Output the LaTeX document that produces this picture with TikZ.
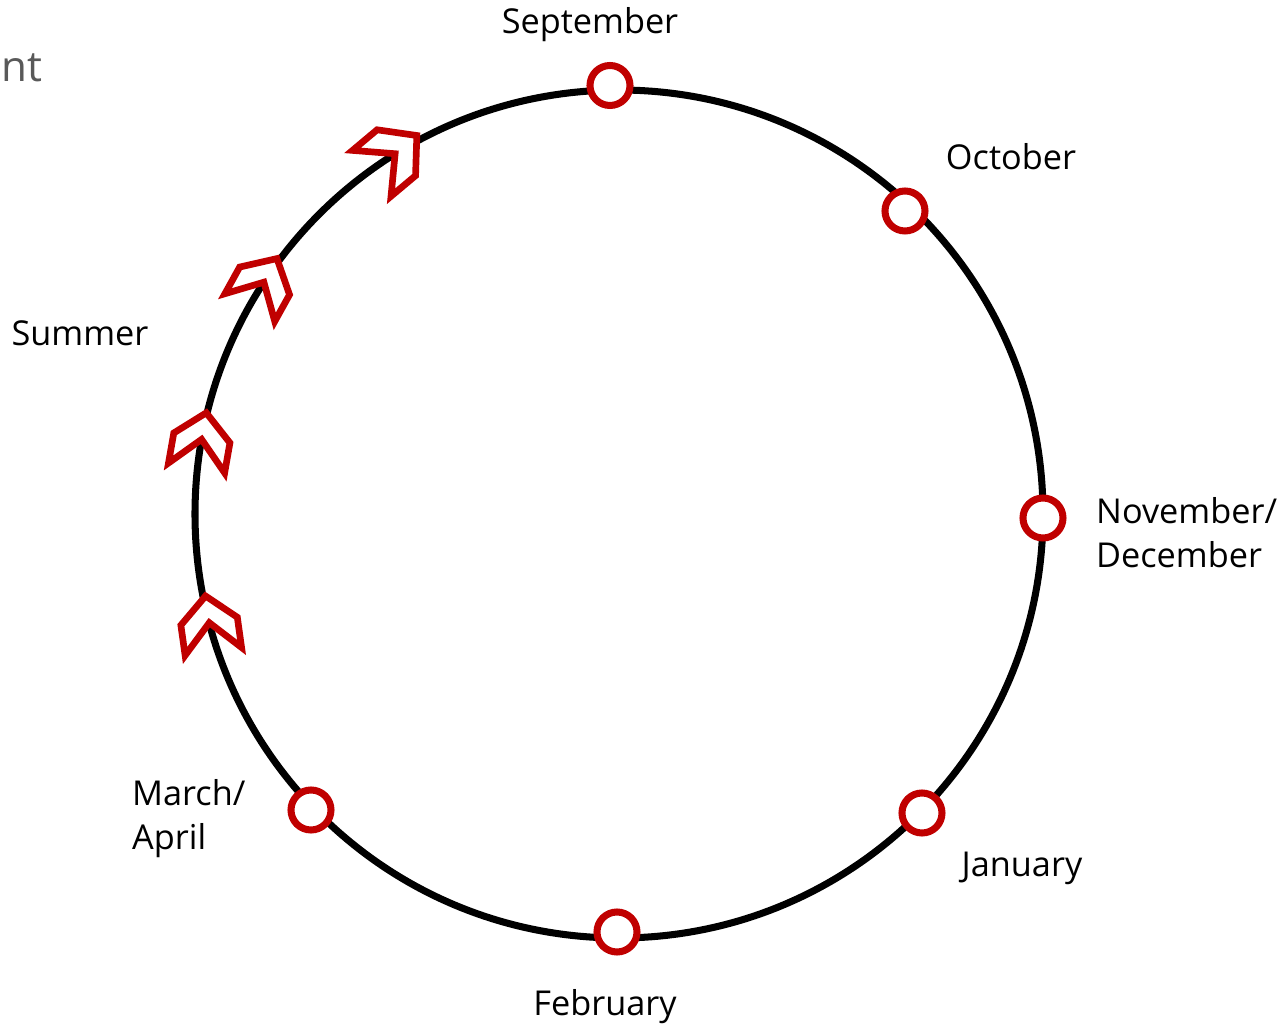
\documentclass[tikz,border=0pt]{standalone}
\usepackage{fontspec}
\setmainfont{Open Sans}
\usepackage{tikz}
\usetikzlibrary{positioning, arrows.meta, calc}
\definecolor{markRed}{HTML}{C00000}
\definecolor{titleGray}{HTML}{595959}

\begin{document}
\begin{tikzpicture}[
  every node/.style={font=\fontsize{19.5}{25}\selectfont, align=left},
  wheelring/.style={
    circle, draw=black, line width=4pt,
    minimum size=16.96cm, inner sep=0pt, outer sep=0pt
  },
  monthmark/.style={
    circle, draw=markRed, fill=white, line width=4pt,
    minimum size=0.8cm, inner sep=0pt
  },
  chevron/.pic={
    \draw[markRed, fill=white, line width=3.8pt]
      (0,0.56) -- (0.57,0.05) -- (0.57,-0.56) -- (0,0.02)
      -- (-0.57,-0.56) -- (-0.57,0.05) -- cycle;
  },
]
\useasboundingbox (-12.38,-10.28) rectangle (13.30,10.28);

% === YEAR WHEEL ===
\node[wheelring] (wheel) at (0,0) {};

% === SUMMER CHEVRONS ===
\pic[rotate=8]   at (wheel.195.7) {chevron};
\pic[rotate=-10] at (wheel.170.4) {chevron};
\pic[rotate=-29] at (wheel.147.0) {chevron};
\pic[rotate=-50, scale=1.05] at (wheel.122.4) {chevron};

% === MONTH MARKERS ===
\node[monthmark] (msep) at (-0.18,8.57) {};
\node[monthmark] (moct) at (5.72,6.06) {};
\node[monthmark] (mnov) at (8.48,-0.08) {};
\node[monthmark] (mjan) at (6.06,-5.98) {};
\node[monthmark] (mfeb) at (-0.04,-8.36) {};
\node[monthmark] (mmar) at (-6.16,-5.92) {};

% === LABELS ===
\node (lsep) at (-0.58,9.78) {September};
\node (loct) at (7.84,7.14) {October};
\node[anchor=west] (lnov) at (9.42,-0.38) {November/\\December};
\node (ljan) at (8.06,-7.08) {January};
\node (lfeb) at (-0.28,-9.86) {February};
\node[anchor=west] (lmar) at (-9.86,-6.1) {March/\\April};
\node (lsum) at (-10.78,3.62) {Summer};

% cut-off heading
\node[anchor=base west, inner sep=0pt, text=titleGray,
  font=\fontsize{24}{28}\selectfont] (head) at (-12.36,8.64) {nt};

\end{tikzpicture}
\end{document}
